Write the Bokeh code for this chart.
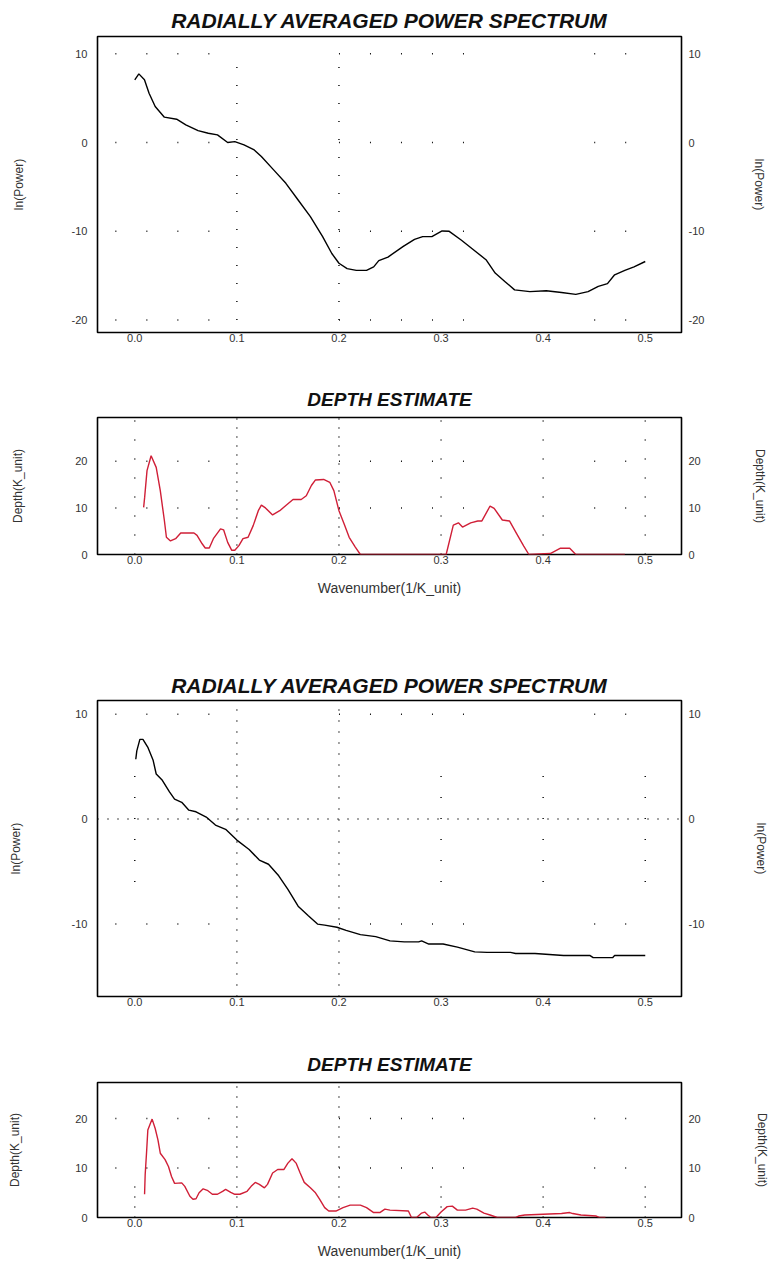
from bokeh.plotting import figure
from bokeh.models import LinearAxis, FixedTicker, PrintfTickFormatter, Range1d
from bokeh.layouts import column
from bokeh.embed import file_html
from bokeh.resources import INLINE

# ---------------------------------------------------------------- data
# wavenumber ticks shared by every panel
k_ticks = [0.0, 0.1, 0.2, 0.3, 0.4, 0.5]
lnp_ticks_a = [-20, -10, 0, 10]
lnp_ticks_b = [-10, 0, 10]
depth_ticks = [0, 10, 20]

# profile A: radially averaged power spectrum
spec_a_k = [0.0, 0.004, 0.0095, 0.014, 0.02, 0.029, 0.041, 0.05, 0.062, 0.072,
            0.081, 0.091, 0.098, 0.107, 0.117, 0.124, 0.136, 0.148, 0.16, 0.172,
            0.184, 0.193, 0.2, 0.208, 0.217, 0.227, 0.234, 0.239, 0.248, 0.263,
            0.274, 0.282, 0.291, 0.301, 0.308, 0.32, 0.332, 0.344, 0.353, 0.363,
            0.372, 0.387, 0.403, 0.418, 0.432, 0.444, 0.454, 0.463, 0.47, 0.48,
            0.489, 0.5]
spec_a_lnp = [7.07, 7.74, 7.07, 5.56, 4.06, 2.86, 2.63, 2.0, 1.35, 1.05,
              0.86, 0.0, 0.11, -0.26, -0.83, -1.58, -3.08, -4.59, -6.47, -8.35,
              -10.6, -12.5, -13.6, -14.2, -14.4, -14.4, -14.0, -13.3, -12.9, -11.7,
              -10.9, -10.6, -10.6, -9.96, -10.0, -11.0, -12.1, -13.2, -14.7, -15.7,
              -16.6, -16.8, -16.7, -16.9, -17.1, -16.8, -16.2, -15.9, -14.9, -14.4,
              -14.0, -13.4]

# profile A: depth estimate
depth_a_k = [0.0087, 0.0097, 0.012, 0.016, 0.021, 0.025, 0.029, 0.031, 0.035, 0.04,
             0.045, 0.052, 0.058, 0.061, 0.066, 0.069, 0.073, 0.077, 0.084, 0.087,
             0.091, 0.095, 0.098, 0.102, 0.106, 0.111, 0.116, 0.121, 0.124, 0.128,
             0.135, 0.142, 0.148, 0.155, 0.163, 0.168, 0.173, 0.177, 0.185, 0.191,
             0.195, 0.2, 0.205, 0.21, 0.216, 0.221, 0.26, 0.305, 0.312, 0.317,
             0.321, 0.329, 0.336, 0.34, 0.348, 0.352, 0.36, 0.367, 0.374, 0.381,
             0.386, 0.407, 0.417, 0.426, 0.432, 0.48]
depth_a_z = [10.1, 12.3, 18.0, 21.2, 18.7, 13.7, 7.3, 3.7, 2.9, 3.4,
             4.6, 4.6, 4.6, 4.1, 2.3, 1.4, 1.4, 3.4, 5.5, 5.3,
             2.6, 0.9, 0.9, 1.9, 3.4, 3.7, 6.2, 9.4, 10.6, 10.0,
             8.5, 9.4, 10.5, 11.8, 11.8, 12.6, 14.8, 16.0, 16.1, 15.5,
             13.7, 9.4, 6.6, 3.7, 1.6, 0.0, 0.0, 0.0, 6.3, 6.8,
             5.9, 6.8, 7.2, 7.2, 10.4, 9.9, 7.4, 7.2, 4.5, 1.8,
             0.0, 0.2, 1.35, 1.35, 0.0, 0.0]

# profile B: radially averaged power spectrum
spec_b_k = [0.001, 0.002, 0.005, 0.008, 0.013, 0.018, 0.021, 0.027, 0.034, 0.039,
            0.046, 0.053, 0.06, 0.07, 0.079, 0.089, 0.1, 0.112, 0.122, 0.131,
            0.141, 0.15, 0.16, 0.17, 0.179, 0.186, 0.198, 0.207, 0.221, 0.236,
            0.25, 0.264, 0.278, 0.281, 0.288, 0.302, 0.316, 0.333, 0.345, 0.368,
            0.373, 0.392, 0.406, 0.42, 0.446, 0.449, 0.468, 0.47, 0.5]
spec_b_lnp = [5.7, 6.5, 7.6, 7.6, 6.8, 5.6, 4.3, 3.7, 2.6, 1.9,
              1.6, 0.85, 0.7, 0.2, -0.57, -0.97, -2.0, -2.9, -3.9, -4.3,
              -5.4, -6.7, -8.3, -9.2, -10.0, -10.1, -10.3, -10.6, -11.0, -11.2,
              -11.6, -11.7, -11.7, -11.6, -11.9, -11.9, -12.2, -12.65, -12.7, -12.7,
              -12.8, -12.8, -12.9, -13.0, -13.0, -13.2, -13.2, -13.0, -13.0]

# profile B: depth estimate
depth_b_k = [0.0096, 0.0102, 0.0115, 0.0128, 0.0147, 0.017, 0.02, 0.0227, 0.025, 0.0297,
             0.033, 0.036, 0.039, 0.046, 0.049, 0.054, 0.057, 0.06, 0.063, 0.067,
             0.071, 0.076, 0.081, 0.086, 0.089, 0.094, 0.098, 0.103, 0.11, 0.114,
             0.118, 0.122, 0.127, 0.13, 0.135, 0.14, 0.146, 0.15, 0.154, 0.158,
             0.162, 0.166, 0.172, 0.177, 0.181, 0.186, 0.19, 0.197, 0.204, 0.211,
             0.221, 0.227, 0.234, 0.24, 0.245, 0.25, 0.268, 0.271, 0.276, 0.281,
             0.284, 0.287, 0.29, 0.295, 0.3, 0.306, 0.311, 0.316, 0.324, 0.331,
             0.335, 0.342, 0.348, 0.355, 0.373, 0.376, 0.382, 0.418, 0.426, 0.429,
             0.437, 0.452, 0.455, 0.461]
depth_b_z = [4.7, 8.7, 13.0, 17.7, 18.7, 19.9, 18.0, 15.7, 13.0, 11.7,
             10.3, 8.3, 6.9, 7.0, 6.3, 4.3, 3.7, 3.8, 5.0, 5.8,
             5.5, 4.7, 4.7, 5.3, 5.7, 5.1, 4.7, 4.7, 5.3, 6.3,
             7.1, 6.7, 6.0, 6.7, 9.0, 9.7, 9.7, 11.0, 11.9, 11.0,
             9.0, 7.1, 6.0, 5.0, 3.7, 2.0, 1.3, 1.3, 2.0, 2.5,
             2.5, 2.0, 1.0, 1.0, 1.7, 1.5, 1.3, 0.0, 0.0, 0.9,
             1.1, 0.5, 0.0, 0.0, 1.1, 2.2, 2.3, 1.5, 1.5, 1.9,
             1.7, 0.9, 0.5, 0.0, 0.0, 0.3, 0.5, 0.8, 1.0, 0.8,
             0.5, 0.3, 0.0, 0.0]

# ---------------------------------------------------------------- style
FONT = "Liberation Sans"
TEXT = "#333333"
RED = "#d01f37"
K_RANGE = (-0.0365, 0.5355)
# stretches of the sparse dotted rows along the wavenumber axis
ROW_SPANS = [(-0.019, 0.101), (0.2, 0.351), (0.45, 0.51)]


def style_axis(ax, ticks, fmt, label, standoff, label_standoff, label_size):
    ax.ticker = FixedTicker(ticks=ticks)
    ax.formatter = PrintfTickFormatter(format=fmt)
    ax.axis_line_color = None
    ax.major_tick_line_color = None
    ax.minor_tick_line_color = None
    ax.major_tick_in = 0
    ax.major_tick_out = 0
    ax.major_label_standoff = standoff
    ax.major_label_text_font = FONT
    ax.major_label_text_font_size = "11px"
    ax.major_label_text_color = TEXT
    if label:
        ax.axis_label = label
        ax.axis_label_standoff = label_standoff
        ax.axis_label_text_font = FONT
        ax.axis_label_text_font_size = label_size
        ax.axis_label_text_font_style = "normal"
        ax.axis_label_text_color = TEXT


def dots(p, orient, positions, lo, hi, dash):
    n = len(positions)
    if orient == "v":
        p.segment(x0=positions, y0=[lo] * n, x1=positions, y1=[hi] * n,
                  line_color="#111111", line_width=1.5, line_dash=dash)
    else:
        p.segment(x0=[lo] * n, y0=positions, x1=[hi] * n, y1=positions,
                  line_color="#111111", line_width=1.5, line_dash=dash)


def panel(title, title_size, title_standoff, y_range, y_ticks, y_label,
          height, top, bottom, left, right, std_left, std_right, x_label=None):
    p = figure(width=771, height=height,
               x_range=Range1d(*K_RANGE), y_range=Range1d(*y_range),
               output_backend="svg", toolbar_location=None,
               min_border_left=left, min_border_right=right,
               min_border_top=top, min_border_bottom=bottom,
               title=title)
    p.title.align = "center"
    p.title.text_font = FONT
    p.title.text_font_size = title_size
    p.title.text_font_style = "bold italic"
    p.title.text_color = "#111111"
    p.title.standoff = title_standoff
    p.outline_line_color = "black"
    p.outline_line_width = 1.6
    p.grid.visible = False
    p.background_fill_color = "white"
    p.border_fill_color = "white"

    style_axis(p.xaxis[0], k_ticks, "%.1f", x_label, 1, 13, "14px")
    style_axis(p.yaxis[0], y_ticks, "%d", y_label, 10, std_left, "12px")
    right_axis = LinearAxis()
    style_axis(right_axis, y_ticks, "%d", y_label, 7, std_right, "12px")
    p.add_layout(right_axis, "right")
    return p


# ---- profile A, power spectrum
p1 = panel("RADIALLY AVERAGED POWER SPECTRUM", "21px", 10, (-21.4, 11.95),
           lnp_ticks_a, "ln(Power)", 375, 36, 43, 94, 86, 43, 45)
for lo, hi in ROW_SPANS:
    dots(p1, "h", lnp_ticks_a, lo, hi, "1 30")
dots(p1, "v", [0.1, 0.2], -20, 10, "1 17")
p1.line(spec_a_k, spec_a_lnp, line_color="black", line_width=1.4)

# ---- profile A, depth estimate
p2 = panel("DEPTH ESTIMATE", "19px", 15, (0, 29.4), depth_ticks, "Depth(K_unit)",
           245, 42, 66, 94, 86, 47, 49, x_label="Wavenumber(1/K_unit)")
for lo, hi in ROW_SPANS:
    dots(p2, "h", [20, 10], lo, hi, "1 30")
dots(p2, "v", [0.1, 0.2], 0, 29.4, "1 8")
dots(p2, "v", [0.0, 0.3, 0.4, 0.5], 0, 29.4, "1 18")
p2.line(depth_a_k, depth_a_z, line_color=RED, line_width=1.4)

# ---- profile B, power spectrum
p3 = panel("RADIALLY AVERAGED POWER SPECTRUM", "21px", 7, (-16.9, 11.3),
           lnp_ticks_b, "ln(Power)", 420, 80, 44, 97, 83, 46, 47)
for lo, hi in ROW_SPANS:
    dots(p3, "h", [10, -10], lo, hi, "1 30")
dots(p3, "h", [0], K_RANGE[0], K_RANGE[1], "1 9")
dots(p3, "v", [0.1, 0.2], -16.9, 11.3, "1 10")
dots(p3, "v", [0.0, 0.3, 0.4, 0.5], -6, 6, "1 20")
p3.line(spec_b_k, spec_b_lnp, line_color="black", line_width=1.4)

# ---- profile B, depth estimate
p4 = panel("DEPTH ESTIMATE", "19px", 15, (0, 27.3), depth_ticks, "Depth(K_unit)",
           225, 42, 48, 97, 83, 50, 51, x_label="Wavenumber(1/K_unit)")
for lo, hi in ROW_SPANS:
    dots(p4, "h", [20, 10], lo, hi, "1 30")
dots(p4, "v", [0.1, 0.2], 0, 27.3, "1 9")
dots(p4, "v", [0.0, 0.3, 0.4, 0.5], 0, 8, "1 9")
p4.line(depth_b_k, depth_b_z, line_color=RED, line_width=1.4)

layout = column(p1, p2, p3, p4, spacing=0)
open("out.html", "w").write(file_html(layout, INLINE))
